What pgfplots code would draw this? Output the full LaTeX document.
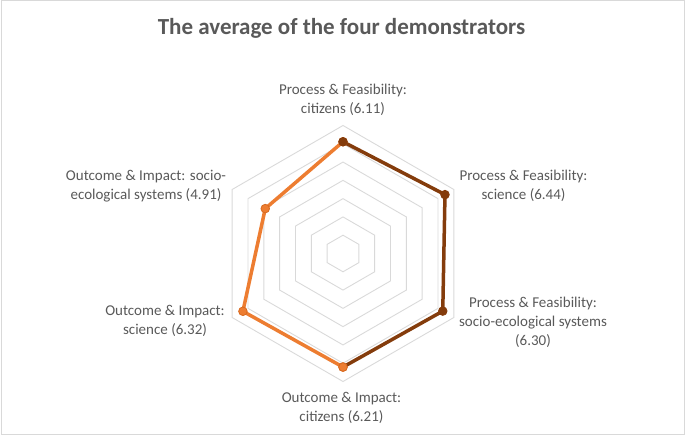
\documentclass[border=0pt]{standalone}
\usepackage{pgfplots}
\pgfplotsset{compat=1.18}
\usepgfplotslibrary{polar}
\usepackage{fontspec}
\setmainfont{Carlito}
\definecolor{lbl}{HTML}{595959}
\definecolor{gridc}{HTML}{D9D9D9}
\definecolor{orng}{HTML}{ED7D31}
\definecolor{orngdk}{HTML}{D86A20}
\definecolor{dbrown}{HTML}{843C0C}
\begin{document}
\begin{tikzpicture}[x=1pt,y=1pt]
\useasboundingbox (0,0) rectangle (685,436);
\draw[gridc, line width=1pt] (1,1) rectangle (684,435);
\begin{polaraxis}[at={(343pt,182.5pt)}, anchor=center, hide axis, scale only axis,
  width=256pt, height=256pt, xmin=0, xmax=360, ymin=0, ymax=7, clip=false]
\pgfplotsinvokeforeach{1,...,7}{
  \addplot[gridc, line width=0.9pt, no marks, line join=miter] coordinates {(90,#1) (30,#1) (330,#1) (270,#1) (210,#1) (150,#1) (90,#1) (30,#1)};
}
\addplot[orng, line width=3.5pt, line join=round, mark=*, mark size=4.3pt,
  mark options={fill=orng, draw=orngdk, line width=0.8pt}]
  coordinates {(270,6.21) (210,6.32) (150,4.91) (90,6.11)};
\addplot[dbrown, line width=3.5pt, line join=round, mark=*, mark size=4.3pt, mark indices={1,2,3},
  mark options={fill=dbrown, draw=dbrown, line width=0.8pt}]
  coordinates {(90,6.11) (30,6.44) (330,6.30) (270,6.21)};
\addplot[only marks, mark=*, mark size=4.3pt,
  mark options={fill=orng, draw=orngdk, line width=0.8pt}]
  coordinates {(270,6.21)};
\end{polaraxis}
\node[anchor=base, text=lbl, font=\fontsize{23}{28}\selectfont\bfseries] at (341.5,401) {The average of the four demonstrators};
\begin{scope}[every node/.style={text=lbl, align=center, font=\fontsize{15}{19}\selectfont, inner sep=0pt}]
\node at (343,336) {Process \& Feasibility:\\citizens (6.11)};
\node at (523.5,250) {Process \& Feasibility:\\science (6.44)};
\node at (533,114) {Process \& Feasibility:\\socio-ecological systems\\(6.30)};
\node at (341.5,28) {Outcome \& Impact:\\citizens (6.21)};
\node at (165,115) {Outcome \& Impact:\\science (6.32)};
\node at (146,250) {Outcome \& Impact: socio-\\ecological systems (4.91)};
\end{scope}
\end{tikzpicture}
\end{document}
